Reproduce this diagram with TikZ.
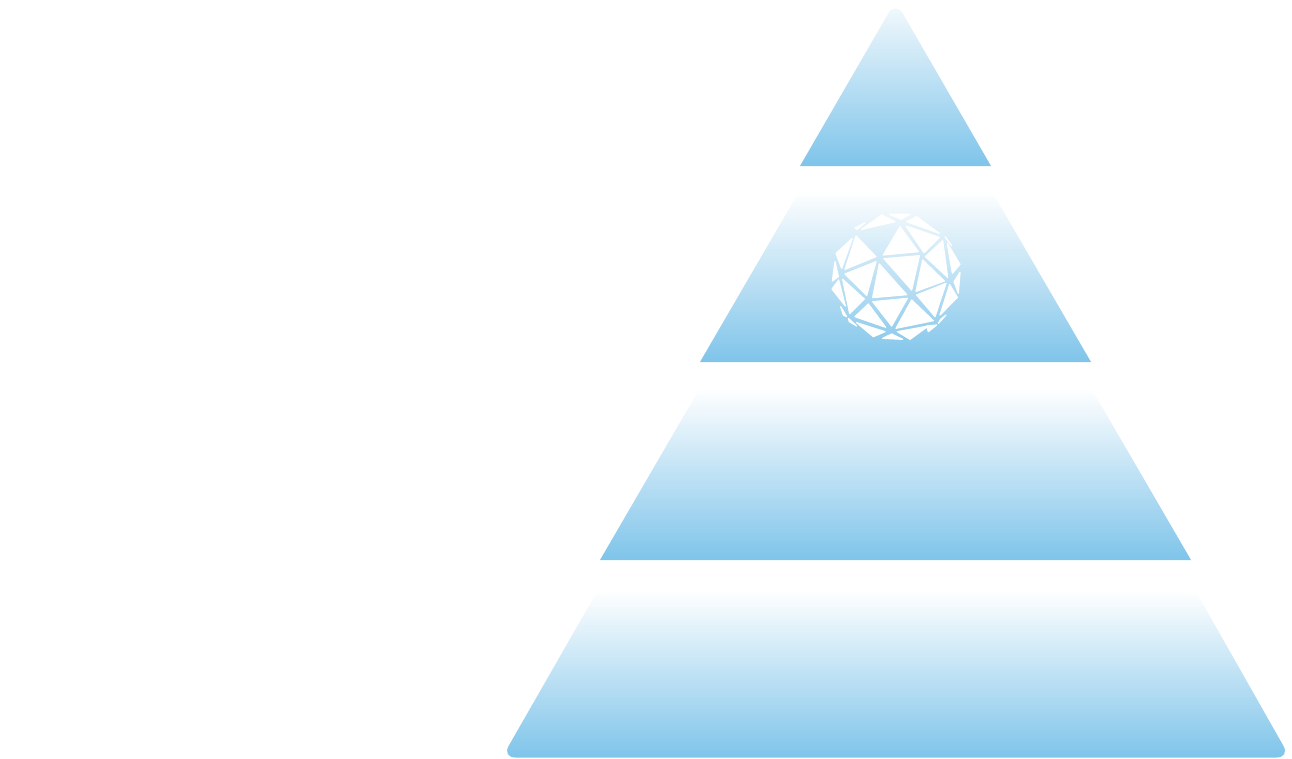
\documentclass[tikz,border=0pt]{standalone}
\usepackage{tikz}
\begin{document}
\begin{tikzpicture}[x=.75pt,y=-.75pt,
tier/.style={top color=white,bottom color=skyblue},
facet/.style={fill=white,draw=white,line width=.9pt,line join=round}]
\definecolor{skyblue}{HTML}{7FC4EA}
\useasboundingbox (0,0) rectangle (1292,758);
\shade[tier,top color=skyblue!8] (800,166)[rounded corners=11pt]--(895.5,1)[sharp corners]--(991,166)--cycle;
\shade[tier] (700,362)--(800,190)--(991,190)--(1091,362)--cycle;
\shade[tier] (600,560)--(700,388)--(1091,388)--(1191,560)--cycle;
\shade[tier] (598,590)--(1195,590)[rounded corners=10pt]--(1290,757.5)--(502,757.5)[sharp corners]--cycle;
\begin{scope}[shift={(820,200)},x=.25pt,y=-.25pt]
\foreach \ax/\ay/\bx/\by/\cx/\cy in {
208/43/270/43/243/58,
185/45/225/65/125/88,
290/50/358/100/260/65,
105/84/135/68/112/88,
108/108/168/170/75/208,
240/80/295/155/190/165,
258/78/358/112/312/158,
48/160/97/115/65/205,
75/222/168/185/140/286,
178/192/260/284/158/293,
192/176/298/167/275/270,
308/180/373/243/288/274,
316/170/368/122/383/232,
375/110/395/137/385/125,
382/130/420/193/397/220,
45/185/55/230/37/243,
56/240/76/318/36/267,
68/238/133/297/89/341,
420/217/415/280/402/245,
389/254/412/292/360/345,
290/285/378/250/345/350,
158/305/262/295/215/378,
275/300/340/362/228/385,
145/312/105/350/197/382,
62/320/80/350/70/345,
110/368/195/395/160/410,
378/345/355/370/362/358,
320/378/350/375/325/395,
85/355/110/378/88/365,
215/402/248/418/188/415,
325/378/232/395/270/418}
  \fill[facet] (\ax,\ay)--(\bx,\by)--(\cx,\cy)--cycle;
\end{scope}
\end{tikzpicture}
\end{document}
